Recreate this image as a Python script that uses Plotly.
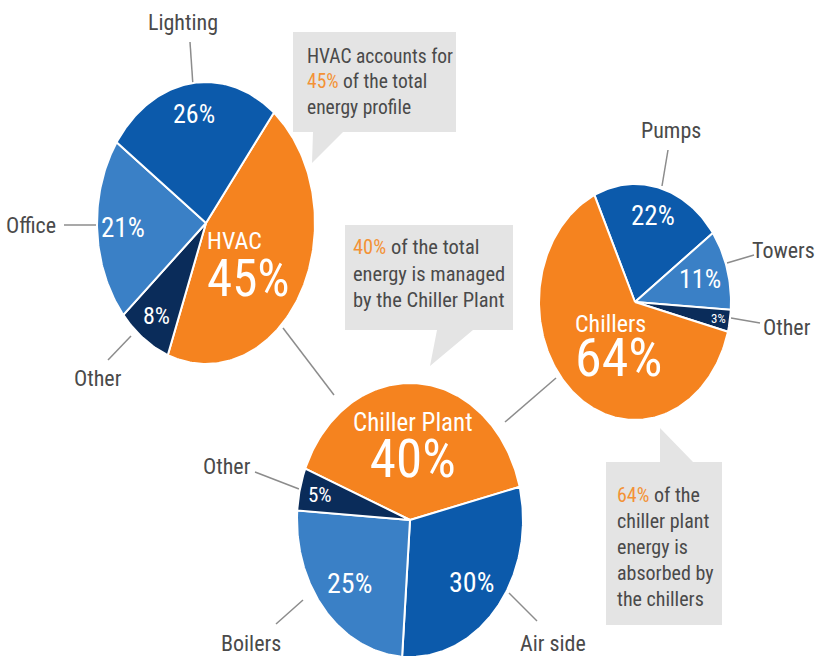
import numpy as np
import plotly.graph_objects as go

# ---------------- data ----------------
hvac_labels = ["HVAC", "Other", "Office", "Lighting"]
hvac_values = [45, 8, 21, 26]

plant_labels = ["Chiller Plant", "Air side", "Boilers", "Other"]
plant_values = [40, 30, 25, 5]

chiller_labels = ["Pumps", "Towers", "Other", "Chillers"]
chiller_values = [22, 11, 3, 64]

# ---------------- style ----------------
ORANGE = "#F5831F"
DARK = "#0C5AAB"
MID = "#3A80C6"
NAVY = "#0A2C5A"
GREY_BOX = "#E4E4E4"
TXT = "#4A4A4A"
ORANGE_TXT = "#F39236"
FONT = "Liberation Sans Narrow, Arial Narrow, Roboto Condensed, DejaVu Sans Condensed, Roboto, sans-serif"

hvac_colors = [ORANGE, NAVY, MID, DARK]
plant_colors = [ORANGE, DARK, MID, NAVY]
chiller_colors = [DARK, MID, NAVY, ORANGE]

# geometry (pixels): cx, cy, rx, ry, start angle (deg, clockwise from top)
geo_hvac = (206, 223, 109, 141, 38.5)
geo_plant = (410, 520, 113, 137, -68)
geo_chill = (635, 302, 96, 118, -25)

fig = go.Figure()


def slices(values, colors, geo):
    cx, cy, rx, ry, a0 = geo
    total = float(sum(values))
    cum = a0
    mids = []
    for v, c in zip(values, colors):
        a1 = cum + v / total * 360.0
        th = np.radians(np.linspace(cum, a1, max(8, int(abs(a1 - cum)))))
        xs = np.concatenate([[cx], cx + rx * np.sin(th), [cx]])
        ys = np.concatenate([[cy], cy - ry * np.cos(th), [cy]])
        fig.add_trace(go.Scatter(x=xs, y=ys, mode="lines", fill="toself",
                                 fillcolor=c, line=dict(color="white", width=2),
                                 hoverinfo="skip", showlegend=False))
        mids.append((cum + a1) / 2.0)
        cum = a1
    return mids


def pct_label(geo, ang, r, text, size):
    cx, cy, rx, ry, _ = geo
    t = np.radians(ang)
    fig.add_annotation(x=cx + r * rx * np.sin(t), y=cy - r * ry * np.cos(t),
                       text=text, showarrow=False,
                       font=dict(family=FONT, size=size, color="white"))


m1 = slices(hvac_values, hvac_colors, geo_hvac)
m2 = slices(plant_values, plant_colors, geo_plant)
m3 = slices(chiller_values, chiller_colors, geo_chill)

# small slice labels
pct_label(geo_hvac, m1[1], 0.8, f"{hvac_values[1]}%", 24)
pct_label(geo_hvac, m1[2], 0.76, f"{hvac_values[2]}%", 27)
pct_label(geo_hvac, m1[3], 0.78, f"{hvac_values[3]}%", 26)
pct_label(geo_plant, m2[1], 0.71, f"{plant_values[1]}%", 28)
pct_label(geo_plant, m2[2], 0.71, f"{plant_values[2]}%", 28)
pct_label(geo_plant, m2[3], 0.82, f"{plant_values[3]}%", 21)
pct_label(geo_chill, m3[0], 0.75, f"{chiller_values[0]}%", 27)
pct_label(geo_chill, m3[1], 0.70, f"{chiller_values[1]}%", 26)
pct_label(geo_chill, m3[2], 0.88, f"{chiller_values[2]}%", 13)


# big slice labels: name line + large value line in one text block
def big(x, y, name, val, s1, s2, base, xa="left"):
    html = (f"<span style='font-size:{s1}px'>{name}</span><br>"
            f"<span style='font-size:{s2}px'>{val}%</span>")
    fig.add_annotation(x=x, y=y, text=html, showarrow=False, xanchor=xa, yanchor="top",
                       align=xa,
                       font=dict(family=FONT, size=base, color="white"))


big(205, 225, hvac_labels[0], hvac_values[0], 24, 51, 36)
big(573, 308, chiller_labels[3], chiller_values[3], 24, 54, 34)
big(413, 406, plant_labels[0], plant_values[0], 25, 53, 35, "center")

# ---------------- shapes: callouts, leaders, connectors ----------------
shapes = []


def line(x0, y0, x1, y1, color="#8C8C8C", w=1.5):
    shapes.append(dict(type="line", x0=x0, y0=y0, x1=x1, y1=y1, xref="x", yref="y",
                       line=dict(color=color, width=w), layer="below"))


# connectors between pies
line(283, 328, 334, 395)
line(505, 422, 556, 378)

# callout boxes with tails
shapes.append(dict(type="path", xref="x", yref="y", fillcolor=GREY_BOX, line=dict(width=0), layer="below",
                   path="M293,32 L456,32 L456,132 L343,132 L312,163 L313,132 L293,132 Z"))
shapes.append(dict(type="path", xref="x", yref="y", fillcolor=GREY_BOX, line=dict(width=0), layer="below",
                   path="M345,225 L513,225 L513,330 L473,330 L430,366 L437,330 L345,330 Z"))
shapes.append(dict(type="path", xref="x", yref="y", fillcolor=GREY_BOX, line=dict(width=0), layer="below",
                   path="M606,462 L660,462 L660,428 L693,462 L722,462 L722,625 L606,625 Z"))

# leader lines
line(190, 42, 193, 86)
line(64, 225, 97, 225)
line(108, 360, 131, 336)
line(668, 150, 662, 186)
line(754, 255, 727, 263)
line(760, 323, 731, 318)
line(255, 472, 299, 489)
line(276, 624, 303, 600)
line(537, 621, 509, 593)


# ---------------- outside labels ----------------
def lab(x, y, t, xa="center"):
    fig.add_annotation(x=x, y=y, text=t, showarrow=False, xanchor=xa,
                       font=dict(family=FONT, size=22, color=TXT))


lab(183, 22, hvac_labels[3])
lab(31, 225, hvac_labels[2])
lab(98, 378, hvac_labels[1])
lab(671, 130, chiller_labels[0])
lab(817, 250, chiller_labels[1], "right")
lab(787, 327, chiller_labels[2])
lab(227, 466, plant_labels[3])
lab(251, 643, plant_labels[2])
lab(553, 643, plant_labels[1])


# ---------------- callout texts ----------------
def box_text(x, y, html, size=20):
    fig.add_annotation(x=x, y=y, text=html, showarrow=False, xanchor="left", yanchor="top",
                       align="left", font=dict(family=FONT, size=size, color=TXT))


o = lambda s: f"<span style='color:{ORANGE_TXT}'>{s}</span>"
box_text(305, 43, f"HVAC accounts for<br>{o(str(hvac_values[0]) + '%')} of the total<br>energy profile", 19.5)
box_text(351, 233, f"{o(str(plant_values[0]) + '%')} of the total<br>energy is managed<br>by the Chiller Plant", 20.5)
box_text(615, 481, f"{o(str(chiller_values[3]) + '%')} of the<br>chiller plant<br>energy is<br>absorbed by<br>the chillers", 20)

fig.update_layout(
    width=817, height=659,
    margin=dict(l=0, r=0, t=0, b=0),
    paper_bgcolor="white", plot_bgcolor="white",
    xaxis=dict(range=[0, 817], visible=False, fixedrange=True),
    yaxis=dict(range=[659, 0], visible=False, fixedrange=True),
    shapes=shapes,
    showlegend=False,
)
fig.write_html("out.html")
